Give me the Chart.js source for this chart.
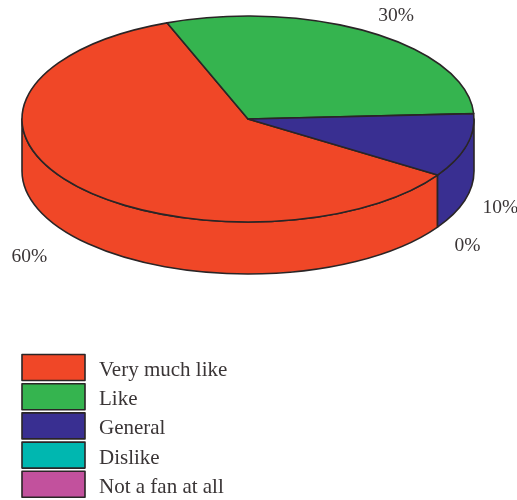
<!DOCTYPE html>
<html>
<head>
<meta charset="utf-8">
<style>html,body{margin:0;padding:0;background:#fff}canvas{display:block}</style>
<script src="https://cdn.jsdelivr.net/npm/chart.js@4"></script>
</head>
<body>
<canvas id="c" width="517" height="500"></canvas>
<script>
const categories = ["Very much like", "Like", "General", "Dislike", "Not a fan at all"];
const shares = [60, 30, 10, 0, 0];
const shareLabels = ["60%", "30%", "10%", "0%", ""];
const colors = ["#f04727", "#35b44f", "#392f91", "#00b7b0", "#c2519d"];

const lineColor = "#2a2526";
const textColor = "#3a3536";
const fontFamily = '"Liberation Serif", serif';
const pie = { cx: 248, cy: 119, rx: 226, ry: 103, depth: 52 };
const labelNudges = [[-43, 73], [25, -17], [34, 62], [30, 71], [0, 0]];
const legendBox = { x: 22, y: 354.5, w: 63, h: 26, step: 29.2, gap: 14, font: 21 };
const labelFont = 19.5;

const pie3d = {
  id: "pie3d",
  beforeDatasetsDraw(chart) {
    const ctx = chart.ctx;
    const arcs = chart.getDatasetMeta(0).data;
    const trace = (arc, fn) => {
      const sx = pie.rx / arc.outerRadius, sy = pie.ry / arc.outerRadius;
      ctx.save();
      ctx.translate(pie.cx, pie.cy);
      ctx.scale(sx, sy);
      ctx.translate(-arc.x, -arc.y);
      ctx.beginPath();
      fn(sy);
      ctx.closePath();
      ctx.restore();
    };
    const paint = arc => {
      ctx.fillStyle = arc.options.backgroundColor;
      ctx.strokeStyle = arc.options.borderColor;
      ctx.lineWidth = arc.options.borderWidth;
      ctx.lineJoin = "round";
      ctx.fill();
      ctx.stroke();
    };
    // side walls: only the part of each slice facing the viewer
    arcs.forEach(arc => {
      for (let k = 0; k < 2; k++) {
        const a = Math.max(arc.startAngle, 2 * Math.PI * k);
        const b = Math.min(arc.endAngle, 2 * Math.PI * k + Math.PI);
        if (b - a <= 1e-6) continue;
        trace(arc, sy => {
          const d = pie.depth / sy;
          ctx.arc(arc.x, arc.y, arc.outerRadius, a, b);
          ctx.arc(arc.x, arc.y + d, arc.outerRadius, b, a, true);
        });
        paint(arc);
      }
    });
    // top faces
    arcs.forEach(arc => {
      if (arc.endAngle - arc.startAngle <= 1e-6) return;
      trace(arc, () => {
        ctx.moveTo(arc.x, arc.y);
        ctx.arc(arc.x, arc.y, arc.outerRadius, arc.startAngle, arc.endAngle);
      });
      paint(arc);
    });
    // percentage labels, anchored to the rim at each slice's middle angle
    ctx.font = labelFont + "px " + fontFamily;
    ctx.fillStyle = textColor;
    ctx.textAlign = "center";
    ctx.textBaseline = "middle";
    arcs.forEach((arc, i) => {
      if (!shareLabels[i]) return;
      const m = (arc.startAngle + arc.endAngle) / 2;
      ctx.fillText(shareLabels[i],
        pie.cx + pie.rx * Math.cos(m) + labelNudges[i][0],
        pie.cy + pie.ry * Math.sin(m) + labelNudges[i][1]);
    });
    // legend
    const items = Chart.overrides.doughnut.plugins.legend.labels.generateLabels(chart);
    ctx.font = legendBox.font + "px " + fontFamily;
    ctx.textAlign = "left";
    items.forEach((item, i) => {
      const y = legendBox.y + i * legendBox.step;
      ctx.fillStyle = item.fillStyle;
      ctx.strokeStyle = item.strokeStyle;
      ctx.lineWidth = item.lineWidth;
      ctx.fillRect(legendBox.x, y, legendBox.w, legendBox.h);
      ctx.strokeRect(legendBox.x, y, legendBox.w, legendBox.h);
      ctx.fillStyle = textColor;
      ctx.fillText(item.text, legendBox.x + legendBox.w + legendBox.gap, y + legendBox.h / 2 + 3);
    });
    return false;
  }
};

new Chart(document.getElementById("c"), {
  type: "doughnut",
  data: {
    labels: categories,
    datasets: [{
      data: shares,
      backgroundColor: colors,
      borderColor: lineColor,
      borderWidth: 1.6
    }]
  },
  options: {
    responsive: false,
    animation: false,
    events: [],
    cutout: 0,
    rotation: 123,
    plugins: { legend: { display: false }, tooltip: { enabled: false } }
  },
  plugins: [pie3d]
});
</script>
</body>
</html>
